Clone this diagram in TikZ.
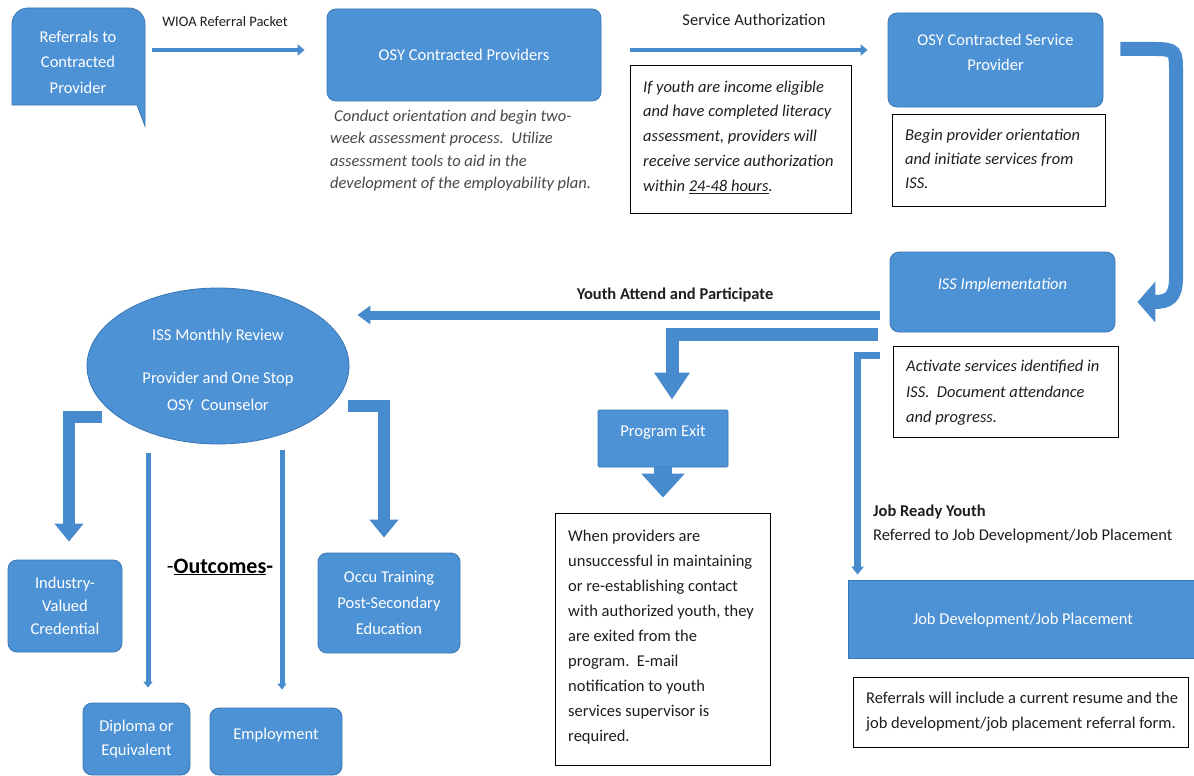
\documentclass[tikz,border=0pt]{standalone}
\usepackage{fontspec}
\setmainfont{Carlito}
\usetikzlibrary{arrows.meta,calc,shapes.geometric}
\definecolor{boxblue}{RGB}{78,146,214}
\definecolor{boxedge}{RGB}{58,118,180}
\definecolor{arrblue}{RGB}{72,138,206}
\definecolor{txtdark}{RGB}{30,30,30}
\definecolor{txtgray}{RGB}{72,72,72}
\tikzset{
  bbox/.style={rectangle, rounded corners=9pt, fill=boxblue, draw=boxedge, line width=0.8pt,
    text=white, align=center, inner sep=0pt, font=\fontsize{16.5}{24}\selectfont},
  sqbox/.style={bbox, rounded corners=1.5pt},
  btext/.style={text=white, align=center, inner sep=0pt},
  dbox/.style={rectangle, draw=black, line width=0.8pt, fill=white, inner sep=0pt},
  dtext/.style={text=txtdark, align=left, inner sep=0pt, anchor=west},
  lbl/.style={text=txtdark, inner sep=0pt, font=\fontsize{16.5}{19}\selectfont},
  thinarr/.style={draw=arrblue, line width=4.5pt, -{Triangle[width=11pt,length=7pt]}},
  midarr/.style={draw=arrblue, line width=9pt, -{Triangle[width=18pt,length=13pt]}},
  fatarr/.style={draw=arrblue, line width=13pt, line join=miter, -{Triangle[width=34pt,length=27pt]}},
  brkarr/.style={draw=arrblue, line width=12pt, line join=miter, -{Triangle[width=28pt,length=18pt]}},
  slimarr/.style={draw=arrblue, line width=5pt, line join=miter, -{Triangle[width=9pt,length=6pt]}},
}
\begin{document}
\begin{tikzpicture}[x=1pt,y=-1pt]
\useasboundingbox (0,0) rectangle (1194,776);
\fill[white] (0,0) rectangle (1194,776);

% --- Referrals bubble
\node[minimum width=133pt, minimum height=97pt, inner sep=0pt] (refbox) at (78.5,56.5) {};
\filldraw[fill=boxblue, draw=boxedge, line width=0.8pt]
  (12,105) [rounded corners=16pt] -- (12,8) -- (145,8) [sharp corners] -- (145,126) -- (137,105) -- cycle;
\node[btext, font=\fontsize{16.5}{25.5}\selectfont] (ref) at (78,62) {Referrals to\\Contracted\\Provider};

% --- OSY Contracted Providers
\node[bbox, minimum width=274pt, minimum height=92pt] (prov) at (464,55) {OSY Contracted Providers};
\node[dtext, text=txtgray, font=\fontsize{16.5}{22.3}\selectfont\itshape] (conduct) at (330,150.5)
  {\hspace{4pt}Conduct orientation and begin two-\\week assessment process.\ \ Utilize\\assessment tools to aid in the\\development of the employability plan.};

% --- Service authorization box
\node[dbox, minimum width=221pt, minimum height=148pt] (authbox) at (740.5,139) {};
\node[dtext, font=\fontsize{16.5}{24.8}\selectfont\itshape] (authtxt) at (643,137)
  {If youth are income eligible\\and have completed literacy\\assessment, providers will\\receive service authorization\\within \underline{24-48 hours}.};

% --- OSY Contracted Service Provider
\node[bbox, minimum width=215pt, minimum height=94pt] (svc) at (995.5,60) {};
\node[btext, font=\fontsize{16.5}{25}\selectfont] (svct) at (995.5,52.5) {OSY Contracted Service\\Provider};
\node[dbox, minimum width=213pt, minimum height=92pt] (beginbox) at (998.5,160) {};
\node[dtext, font=\fontsize{16.5}{24}\selectfont\itshape] (begintxt) at (905,158.5)
  {Begin provider orientation\\and initiate services from\\ISS.};

% --- ISS Implementation
\node[bbox, minimum width=225pt, minimum height=80pt] (iss) at (1002.5,292) {};
\node[btext, font=\fontsize{16.5}{19}\selectfont\itshape] (isst) at (1002.5,285) {ISS Implementation};
\node[dbox, minimum width=225pt, minimum height=91pt] (actbox) at (1005.5,391.5) {};
\node[dtext, font=\fontsize{16.5}{25.5}\selectfont\itshape] (acttxt) at (906,393)
  {Activate services identified in\\ISS.\ \ Document attendance\\and progress.};

% --- Program Exit
\node[sqbox, minimum width=130pt, minimum height=57pt] (exit) at (663,438.5) {};
\node[btext, font=\fontsize{16.5}{19}\selectfont] (exitt) at (663,432) {Program Exit};
\node[dbox, minimum width=215pt, minimum height=252pt] (exitbox) at (662.5,639) {};
\node[dtext, font=\fontsize{16.5}{24.9}\selectfont] (exittxt) at (568,637)
  {When providers are\\unsuccessful in maintaining\\or re-establishing contact\\with authorized youth, they\\are exited from the\\program.\ \ E-mail\\notification to youth\\services supervisor is\\required.};

% --- Job development
\node[lbl, anchor=west, font=\fontsize{16.5}{19}\selectfont\bfseries] (jry) at (873,512) {Job Ready Youth};
\node[lbl, anchor=west] (jrt) at (873,536) {Referred to Job Development/Job Placement};
\node[sqbox, rounded corners=0pt, minimum width=350pt, minimum height=78pt] (job) at (1023,619) {};
\node[btext, font=\fontsize{16.5}{19}\selectfont] (jobt) at (1023,620) {Job Development/Job Placement};
\node[dbox, minimum width=335pt, minimum height=70pt] (refbox2) at (1020.5,712) {};
\node[dtext, font=\fontsize{16.5}{25}\selectfont] (reftxt) at (866,712)
  {Referrals will include a current resume and the\\job development/job placement referral form.};

% --- Monthly review ellipse
\node[ellipse, fill=boxblue, draw=boxedge, line width=0.8pt, minimum width=262pt, minimum height=156pt, inner sep=0pt] (mon) at (218,366) {};
\node[btext, font=\fontsize{16.5}{27}\selectfont] (mont) at (218,370)
  {ISS Monthly Review\\[16pt]Provider and One Stop\\OSY\ \ Counselor};

% --- Outcomes
\node[bbox, minimum width=114pt, minimum height=92pt, font=\fontsize{16.5}{23}\selectfont] (ind) at (65,606) {Industry-\\Valued\\Credential};
\node[bbox, minimum width=142pt, minimum height=100pt, font=\fontsize{16.5}{26}\selectfont] (occu) at (389,603) {Occu Training\\Post-Secondary\\Education};
\node[bbox, minimum width=107pt, minimum height=72pt] (dip) at (136.5,739) {Diploma or\\Equivalent};
\node[bbox, minimum width=132pt, minimum height=67pt] (emp) at (276,741.5) {};
\node[btext, font=\fontsize{16.5}{19}\selectfont] (empt) at (276,735) {Employment};
\node[text=black, inner sep=0pt, font=\fontsize{22}{26}\selectfont] (outc) at (220,567) {-\underline{\textbf{Outcomes}}\textbf{-}};

% --- Connector labels
\node[lbl, font=\fontsize{14.5}{17}\selectfont] (wioa) at (225,22) {WIOA Referral Packet};
\node[lbl] (sauth) at (754,20) {Service Authorization};
\node[lbl, font=\fontsize{16.5}{19}\selectfont\bfseries] (yap) at (675,295) {Youth Attend and Participate};

% --- Connectors
\draw[thinarr] ($(refbox.east)+(7,-6.5)$) -- ($(prov.west)+(-22,-5)$);
\draw[thinarr] ($(prov.east)+(29,-5)$) -- ($(svc.west)+(-20,-10)$);
\draw[draw=arrblue, line width=14pt, -{Triangle[width=40pt,length=18pt]}]
  ($(svc.east)+(17,-11)$) -- (1155,49) .. controls (1176,49) and (1176,52) .. (1176,72)
  -- (1176,278) .. controls (1176,298) and (1168,302) .. ($(iss.east)+(22,10)$);
\draw[midarr] ($(iss.west)+(-10,23)$) -- ($(mon.east)+(8,-51)$);
\draw[fatarr] ($(iss.west)+(-12,42)$) -| ($(exit.north)+(9,-10)$);
\draw[draw=arrblue, line width=7pt, line join=miter, -{Triangle[width=12pt,length=8pt]}]
  ($(iss.west)+(-10,63)$) -| ($(job.north west)+(10,-5)$);
\draw[draw=arrblue, line width=18pt, -{Triangle[width=42pt,length=24pt]}] (exit.south) -- ($(exitbox.north)+(0.5,-15)$);
\draw[brkarr] ($(mon.center)+(-116,51)$) -| ($(ind.north)+(4,-18)$);
\draw[brkarr] ($(mon.center)+(130,40)$) -| ($(occu.north)+(-5,-15)$);
\draw[slimarr] ($(mon.center)+(-70,87)$) -- ($(dip.north)+(11.5,-15)$);
\draw[slimarr] ($(mon.center)+(64,84)$) -- ($(emp.north)+(6,-18)$);
\end{tikzpicture}
\end{document}
